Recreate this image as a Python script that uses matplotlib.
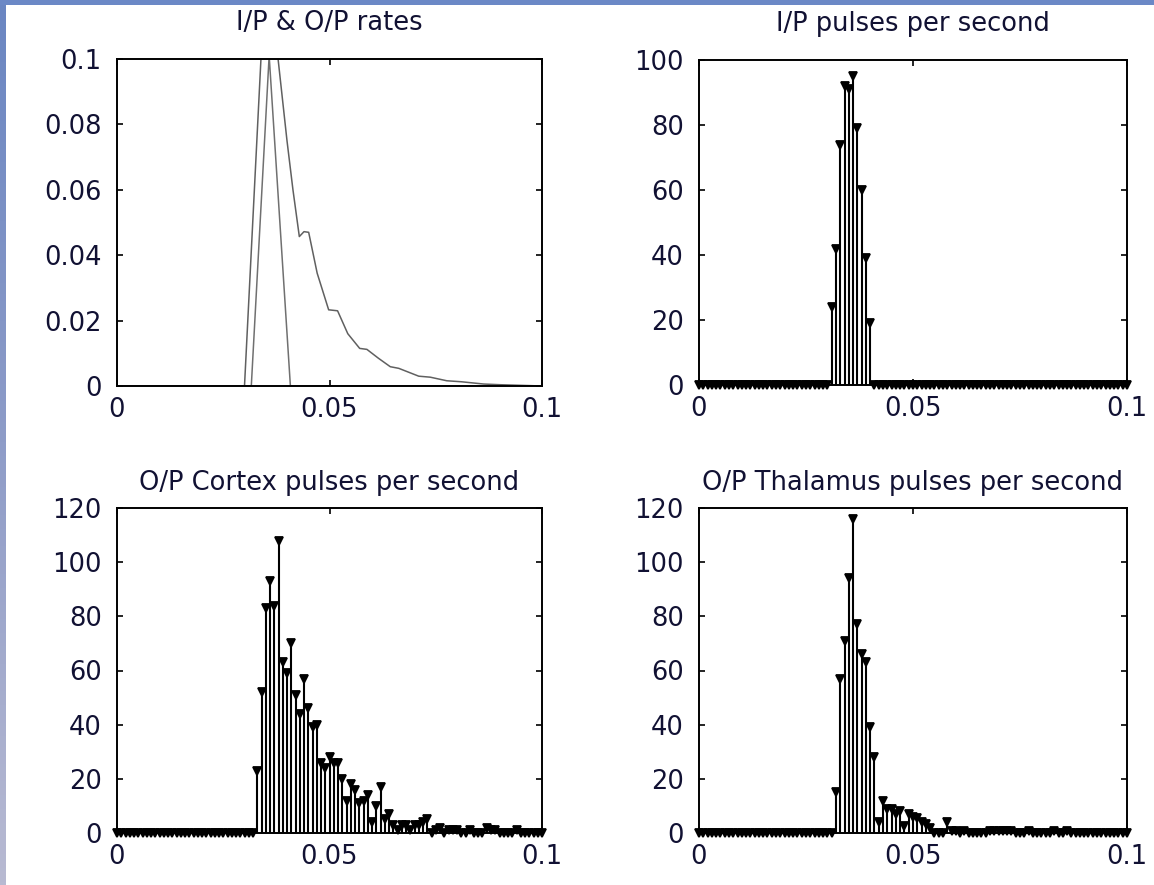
import numpy as np
import matplotlib
matplotlib.use("Agg")
import matplotlib.pyplot as plt
from matplotlib.colors import LinearSegmentedColormap

# ---------------- data ----------------
x_ticks = [0, 0.05, 0.1]
x_ticklabels = ["0", "0.05", "0.1"]

titles = ["I/P & O/P rates", "I/P pulses per second",
          "O/P Cortex pulses per second", "O/P Thalamus pulses per second"]

# top-left: rate curves
ip_rate_x = [0, 0.0316, 0.0358, 0.0408, 0.1]
ip_rate_y = [0, 0, 0.101, 0, 0]
op_rate_x = [0, 0.0300, 0.0360, 0.0379, 0.0400, 0.0414, 0.0429, 0.0440, 0.0451,
             0.0471, 0.0498, 0.0519, 0.0543, 0.0571, 0.0588, 0.0615, 0.0643,
             0.0663, 0.0710, 0.0737, 0.0776, 0.0810, 0.0863, 0.0900, 0.1]
op_rate_y = [0, 0, 0.155, 0.100, 0.075, 0.060, 0.0457, 0.0472, 0.0470,
             0.0345, 0.0233, 0.0230, 0.0160, 0.0115, 0.0112, 0.0085, 0.0059,
             0.0054, 0.0030, 0.0027, 0.0016, 0.0013, 0.0006, 0.0004, 0.0]

# stem time base (s)
t = np.round(np.arange(0, 101) * 0.001, 3)

# I/P pulses per second (nonzero from 0.031 to 0.040)
ip_start = 31
ip_vals = [24, 42, 74, 92, 91, 95, 79, 60, 39, 19]

# Cortex pulses per second (from 0.033)
cx_start = 33
cx_vals = [23, 52, 83, 93, 84, 108, 63, 59, 70, 51,
           44, 57, 46, 39, 40, 26, 24, 28, 26, 26,
           20, 12, 18, 16, 11, 12, 14, 4, 10, 17,
           5, 7, 3, 1, 3, 3, 1, 3, 3, 4,
           5, 0, 1, 2, 0, 1, 1, 1, 0, 0,
           1, 0, 0, 0, 2, 1, 1, 0, 0, 0,
           0, 1]

# Thalamus pulses per second (from 0.032)
th_start = 32
th_vals = [15, 57, 71, 94, 116, 77, 66, 63, 39, 28,
           4, 12, 9, 9, 7, 8, 2.5, 7, 6, 5.5,
           4, 3.3, 1.8, 0, 0, 0, 4, 0.6, 0.6, 0,
           0.6, 0, 0, 0, 0, 0, 0.6, 0.6, 0.6, 0.6,
           0.6, 0.6, 0, 0, 0, 0.6, 0, 0, 0, 0,
           0, 0.6, 0, 0, 0.6, 0, 0]

def full(start, vals):
    y = np.zeros(len(t))
    y[start:start + len(vals)] = vals
    return y

ip_y = full(ip_start, ip_vals)
cx_y = full(cx_start, cx_vals)
th_y = full(th_start, th_vals)

# ---------------- figure ----------------
plt.rcParams['font.family'] = ['DejaVu Sans']
txt_color = '#111133'
fs = 18.5

fig = plt.figure(figsize=(11.54, 8.85), dpi=100)
fig.patch.set_facecolor('white')

W, H = 1154, 885
def ax_rect(l, r, top, bot):
    return [l / W, 1 - bot / H, (r - l) / W, (bot - top) / H]

rects = [ax_rect(117, 542, 59, 386), ax_rect(699, 1127, 60, 385),
         ax_rect(117, 542, 508, 833), ax_rect(699, 1127, 508, 833)]

# blue slide border (left and top strips)
bax = fig.add_axes([0, 0, 6 / W, 1])
grad = np.linspace(0, 1, 256).reshape(-1, 1)
cm = LinearSegmentedColormap.from_list('b', ['#6a86c2', '#8e9cc8', '#b8bad2'])
bax.imshow(grad, aspect='auto', cmap=cm, extent=[0, 1, 0, 1], origin='upper')
bax.set_axis_off()
tax = fig.add_axes([0, 1 - 5 / H, 1, 5 / H])
tax.set_facecolor('#6b88c6')
tax.set_xticks([]); tax.set_yticks([])
for s in tax.spines.values():
    s.set_visible(False)

def style(ax, yticks, ylim, ylabels):
    ax.set_xlim(0, 0.1)
    ax.set_ylim(*ylim)
    ax.set_xticks(x_ticks)
    ax.set_xticklabels(x_ticklabels)
    ax.set_yticks(yticks)
    ax.set_yticklabels(ylabels)
    ax.tick_params(direction='in', length=4, width=1.2, top=True, right=True,
                   labelsize=fs, colors='black', labelcolor=txt_color)
    ax.tick_params(axis='x', pad=8)
    ax.tick_params(axis='y', pad=11)
    for s in ax.spines.values():
        s.set_linewidth(1.4)
        s.set_color('black')

# top-left
ax = fig.add_axes(rects[0])
ax.plot(op_rate_x, op_rate_y, color='#606060', lw=1.1)
ax.plot(ip_rate_x, ip_rate_y, color='#707070', lw=1.1)
style(ax, [0, 0.02, 0.04, 0.06, 0.08, 0.1], (0, 0.1),
      ["0", "0.02", "0.04", "0.06", "0.08", "0.1"])
ax.set_title(titles[0], fontsize=fs, color=txt_color, pad=21)

def stem_plot(ax, y, yticks, ylim, title, tpad):
    ml, sl, bl = ax.stem(t, y, linefmt='k-', markerfmt='kv', basefmt=' ')
    sl.set_linewidth(1.5)
    ml.set_markersize(5.5)
    ml.set_markeredgewidth(1.3)
    ml.set_clip_on(False)
    style(ax, yticks, ylim, [str(v) for v in yticks])
    ax.set_title(title, fontsize=fs, color=txt_color, pad=tpad)

stem_plot(fig.add_axes(rects[1]), ip_y, [0, 20, 40, 60, 80, 100], (0, 100), titles[1], 21)
stem_plot(fig.add_axes(rects[2]), cx_y, [0, 20, 40, 60, 80, 100, 120], (0, 120), titles[2], 13)
stem_plot(fig.add_axes(rects[3]), th_y, [0, 20, 40, 60, 80, 100, 120], (0, 120), titles[3], 13)

fig.savefig('out.png', dpi=100, facecolor='white')
